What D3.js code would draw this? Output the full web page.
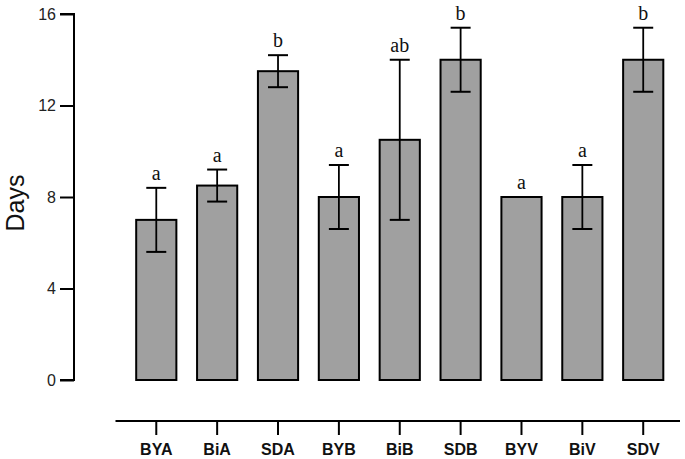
<!DOCTYPE html>
<html><head><meta charset="utf-8">
<script src="https://cdn.jsdelivr.net/npm/d3@7"></script>
<style>body{margin:0;background:#fff}</style>
</head><body>
<svg id="c" width="685" height="459"></svg>
<script>
const categories = ["BYA","BiA","SDA","BYB","BiB","SDB","BYV","BiV","SDV"];
const means = [7.0, 8.5, 13.5, 8.0, 10.5, 14.0, 8.0, 8.0, 14.0];
const errors = [1.4, 0.7, 0.7, 1.4, 3.5, 1.4, 0, 1.4, 1.4];
const letters = ["a","a","b","a","ab","b","a","a","b"];
const yTicks = [0,4,8,12,16];

const svg = d3.select("#c");
const y = d3.scaleLinear().domain([0,16]).range([380,14]);
const x = d3.scaleBand().domain(categories).range([115.5,684]).paddingInner(0.34).paddingOuter(0.34);

// y axis
const yAxis = svg.append("g").attr("transform","translate(74,0)")
  .call(d3.axisLeft(y).tickValues(yTicks).tickSize(14).tickPadding(4));
yAxis.select(".domain").attr("stroke","#000").attr("stroke-width",2).attr("d","M-14,"+y(16)+"H0V"+y(0)+"H-14");
yAxis.selectAll(".tick line").attr("stroke","#000").attr("stroke-width",2);
yAxis.selectAll(".tick text").attr("font-family","Liberation Sans, Arial, sans-serif").attr("font-size",16).attr("fill","#222");

svg.append("text").attr("transform","translate(23.5,203) rotate(-90)")
  .attr("text-anchor","middle").attr("font-family","Liberation Sans, Arial, sans-serif")
  .attr("font-size",25).attr("fill","#111").text("Days");

// bars
const g = svg.append("g");
g.selectAll("rect").data(categories).join("rect")
  .attr("x", d=>x(d)).attr("width", x.bandwidth())
  .attr("y", (d,i)=>y(means[i])).attr("height",(d,i)=>y(0)-y(means[i]))
  .attr("fill","#a0a0a0").attr("stroke","#000").attr("stroke-width",2);

// error bars
const cap = 10;
categories.forEach((c,i)=>{
  if(!errors[i]) return;
  const cx = x(c)+x.bandwidth()/2;
  const hi = y(means[i]+errors[i]), lo = y(means[i]-errors[i]);
  g.append("line").attr("x1",cx).attr("x2",cx).attr("y1",hi).attr("y2",lo).attr("stroke","#000").attr("stroke-width",1.8);
  g.append("line").attr("x1",cx-cap).attr("x2",cx+cap).attr("y1",hi).attr("y2",hi).attr("stroke","#000").attr("stroke-width",2);
  g.append("line").attr("x1",cx-cap).attr("x2",cx+cap).attr("y1",lo).attr("y2",lo).attr("stroke","#000").attr("stroke-width",2);
});

// letters
g.selectAll("text.lt").data(categories).join("text").attr("class","lt")
  .attr("x", d=>x(d)+x.bandwidth()/2)
  .attr("y",(d,i)=>y(means[i]+errors[i])-8)
  .attr("text-anchor","middle").attr("font-family","Liberation Serif, Times New Roman, serif")
  .attr("font-size",20).attr("fill","#111").text((d,i)=>letters[i]);

// x axis
const xAxis = svg.append("g").attr("transform","translate(0,421)")
  .call(d3.axisBottom(x).tickSize(14).tickPadding(9));
xAxis.select(".domain").attr("stroke","#000").attr("stroke-width",2).attr("d","M115.5,0H680");
xAxis.selectAll(".tick line").attr("stroke","#000").attr("stroke-width",2);
xAxis.selectAll(".tick text").attr("font-family","Liberation Sans, Arial, sans-serif").attr("font-weight","bold").attr("font-size",16).attr("fill","#111");
</script>
</body></html>
